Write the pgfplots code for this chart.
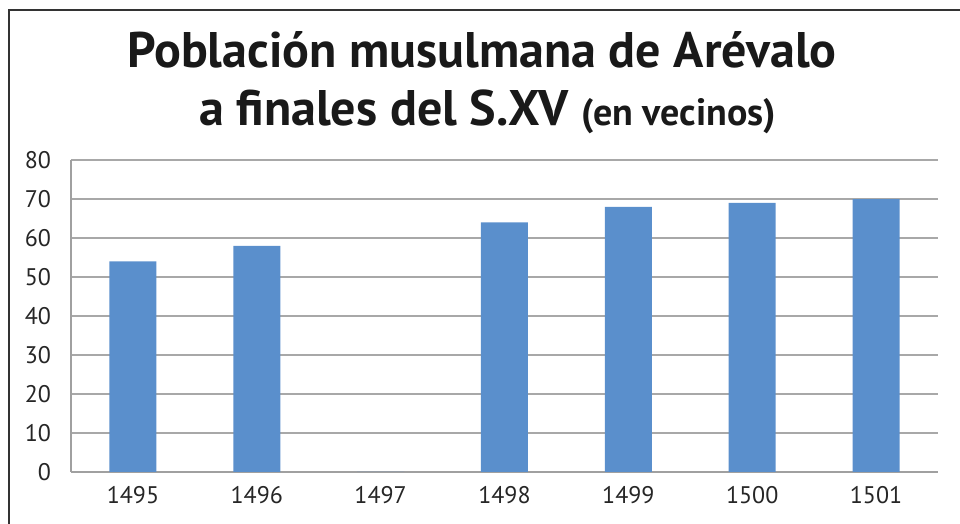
\documentclass[border=0pt]{standalone}
\usepackage{pgfplots}
\pgfplotsset{compat=1.18}
\usepackage{fontspec}
\setmainfont{PT Sans}
\definecolor{barblue}{HTML}{5A8FCC}
\definecolor{gridgray}{HTML}{A8A8A8}
\definecolor{axisgray}{HTML}{A0A0A0}
\begin{document}
\begin{tikzpicture}
\useasboundingbox (0,0) rectangle (480pt,262pt);
\draw[line width=1pt, black!80] (4.5pt,-1pt) -- (4.5pt,257pt) -- (481pt,257pt);
\node[anchor=base, font=\fontsize{25}{27}\selectfont\bfseries, text=black!90] at (241pt,228pt) {Población musulmana de Arévalo};
\node[anchor=base, font=\fontsize{25}{27}\selectfont\bfseries, text=black!90] at (243.75pt,199pt) {a finales del S.XV {\fontsize{19}{20}\selectfont(en vecinos)}};
\begin{axis}[
  at={(35.5pt,26pt)}, anchor=south west,
  scale only axis, width=433.5pt, height=156pt,
  xmin=-0.5, xmax=6.5, ymin=0, ymax=80,
  xtick={0,...,6}, xticklabels={1495,1496,1497,1498,1499,1500,1501},
  ytick={0,10,...,80},
  tick style={draw=none},
  axis x line*=bottom, axis y line*=left,
  axis line style={axisgray, line width=1.3pt},
  separate axis lines,
  x axis line style={-}, y axis line style={-},
  ymajorgrids, grid style={gridgray, line width=0.9pt},
  tick label style={font=\fontsize{12}{14}\selectfont, text=black!85},
  /pgf/number format/assume math mode=true,
  yticklabel style={xshift=-6.5pt},
  xticklabel style={yshift=-3.5pt},
]
\addplot[ybar, bar width=23.5pt, fill=barblue, draw=none] coordinates {
(0,54) (1,58) (2,0) (3,64) (4,68) (5,69) (6,70)};
\end{axis}
\end{tikzpicture}
\end{document}
